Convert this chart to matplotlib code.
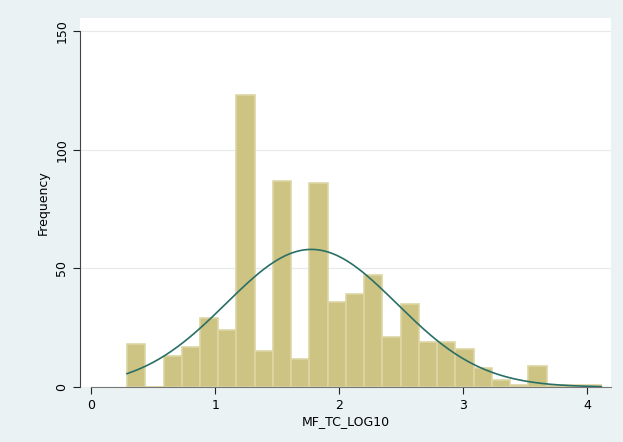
import numpy as np
import matplotlib
matplotlib.use("Agg")
import matplotlib.pyplot as plt

# histogram of MF_TC_LOG10, counts
bin_start = 0.29
bin_width = 0.147
counts = [18, 0, 13, 17, 29, 24, 123, 15, 87, 12, 86, 36, 39, 47, 21,
          35, 19, 19, 16, 8, 3, 1, 9, 1, 1, 1]
y_ticks = [0, 50, 100, 150]
x_ticks = [0, 1, 2, 3, 4]

edges = bin_start + bin_width * np.arange(len(counts) + 1)
mids = (edges[:-1] + edges[1:]) / 2
n = sum(counts)
mean = np.average(mids, weights=counts)
sd = np.sqrt(np.average((mids - mean) ** 2, weights=counts))

fig = plt.figure(figsize=(6.23, 4.42), dpi=100)
fig.patch.set_facecolor("#eaf2f3")
ax = fig.add_axes([80 / 623, 55 / 442, 531 / 623, 369 / 442])
ax.set_facecolor("white")

ax.bar(edges[:-1], counts, width=bin_width, align="edge",
       color="#cdc383", edgecolor="#ddd6a4", linewidth=1.2, zorder=2)

xs = np.linspace(edges[0], edges[-1], 300)
dens = n * bin_width / (sd * np.sqrt(2 * np.pi)) * np.exp(-0.5 * ((xs - mean) / sd) ** 2)
ax.plot(xs, dens, color="#2a6f66", lw=1.2, zorder=3)

ax.set_xlim(-0.089, 4.19)
ax.set_ylim(0, 155.5)
ax.set_yticks(y_ticks)
ax.set_xticks(x_ticks)
ax.grid(axis="y", color="#e6eaea", lw=0.8, zorder=0)
for s in ["top", "right"]:
    ax.spines[s].set_visible(False)
ax.spines["left"].set_color("#444444")
ax.spines["left"].set_bounds(0, 150)
ax.spines["bottom"].set_color("#777777")
ax.spines["bottom"].set_bounds(0, 4.19)
ax.tick_params(labelsize=9, length=5, color="#222222")
for lab in ax.get_yticklabels():
    lab.set_rotation(90)
    lab.set_va("center")
ax.set_xlabel("MF_TC_LOG10", fontsize=9, labelpad=2)
ax.set_ylabel("Frequency", fontsize=9, labelpad=4)

fig.savefig("out.png", dpi=100, facecolor=fig.get_facecolor())
